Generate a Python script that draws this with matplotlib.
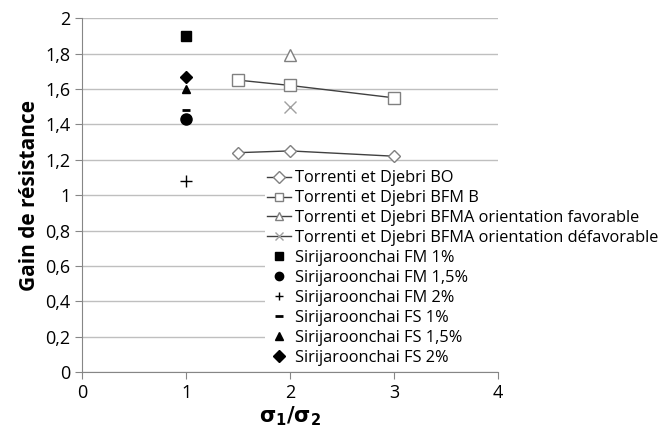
from matplotlib import pyplot as plt
from matplotlib.ticker import FuncFormatter

plt.rcParams['font.family'] = ['Open Sans', 'DejaVu Sans']

# Data
bo_x = [1.5, 2, 3]
bo_y = [1.24, 1.25, 1.22]
bfmb_x = [1.5, 2, 3]
bfmb_y = [1.65, 1.62, 1.55]
fav_x = [2]
fav_y = [1.79]
defav_x = [2]
defav_y = [1.50]
sir_labels = ['Sirijaroonchai FM 1%', 'Sirijaroonchai FM 1,5%',
              'Sirijaroonchai FM 2%', 'Sirijaroonchai FS 1%',
              'Sirijaroonchai FS 1,5%', 'Sirijaroonchai FS 2%']
sir_x = [1, 1, 1, 1, 1, 1]
sir_y = [1.90, 1.43, 1.08, 1.48, 1.60, 1.67]
sir_markers = ['s', 'o', '+', '_', '^', 'D']
sir_sizes = [7, 8, 8, 6, 6, 6]

fig = plt.figure(figsize=(6.63, 4.44), dpi=100)
ax = fig.add_axes([0.124, 0.162, 0.627, 0.797])

ax.plot(bo_x, bo_y, color='#404040', lw=1, marker='D', ms=6,
        mfc='white', mec='#808080', label='Torrenti et Djebri BO')
ax.plot(bfmb_x, bfmb_y, color='#404040', lw=1, marker='s', ms=9,
        mfc='white', mec='#808080', label='Torrenti et Djebri BFM B')
ax.plot(fav_x, fav_y, color='#404040', lw=1, marker='^', ms=9,
        mfc='white', mec='#808080',
        label='Torrenti et Djebri BFMA orientation favorable')
ax.plot(defav_x, defav_y, color='#404040', lw=1, marker='x', ms=9,
        mec='#a0a0a0', label='Torrenti et Djebri BFMA orientation défavorable')
for x, y, m, s, lab in zip(sir_x, sir_y, sir_markers, sir_sizes, sir_labels):
    ax.plot([x], [y], ls='none', marker=m, ms=s, color='black',
            mew=2 if m == '_' else 1, label=lab)

ax.set_xlim(0, 4)
ax.set_ylim(0, 2)
ax.set_xticks([0, 1, 2, 3, 4])
ax.set_yticks([i * 0.2 for i in range(11)])
ax.yaxis.set_major_formatter(FuncFormatter(
    lambda v, p: ('%g' % round(v, 1)).replace('.', ',')))
ax.grid(True, axis='y', color='#bfbfbf', lw=1)
ax.set_axisbelow(True)
for side in ['top', 'right']:
    ax.spines[side].set_visible(False)
for side in ['left', 'bottom']:
    ax.spines[side].set_color('#868686')
ax.tick_params(axis='both', colors='#868686', labelcolor='black',
               labelsize=13, length=5, direction='out')

ax.set_xlabel(r'$\mathbf{\sigma_1/\sigma_2}$', fontsize=15, labelpad=2)
ax.set_ylabel('Gain de résistance', fontsize=15, fontweight='bold')

leg = ax.legend(loc='upper left', bbox_to_anchor=(0.4, 0.62),
                bbox_transform=fig.transFigure, frameon=True,
                fontsize=11.8, handlelength=1.5, handletextpad=0.2,
                labelspacing=0.24, borderpad=0.1, borderaxespad=0)
leg.get_frame().set_edgecolor('none')
leg.get_frame().set_facecolor('white')
leg.get_frame().set_alpha(1)
for h in leg.legend_handles:
    h.set_markersize(min(h.get_markersize(), 6))

fig.savefig('out.png', dpi=100)
